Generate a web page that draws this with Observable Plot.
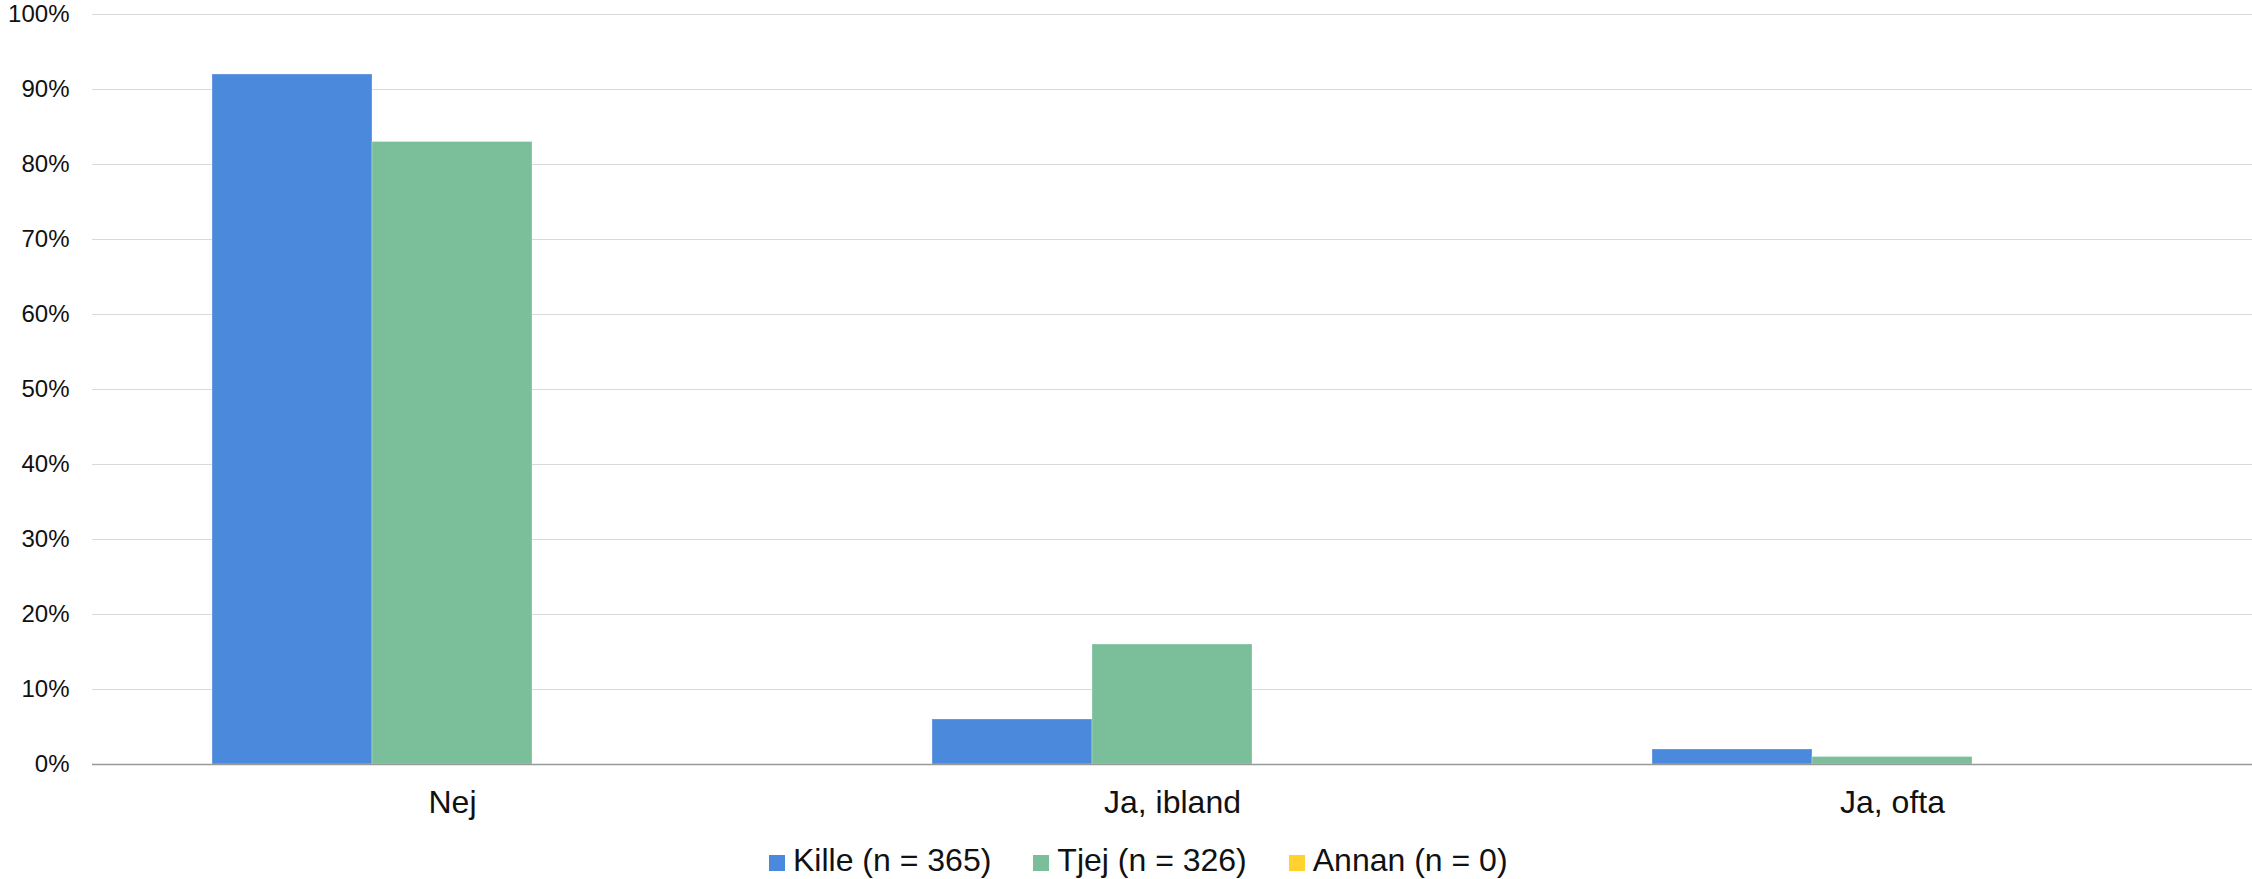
<!DOCTYPE html>
<html>
<head>
<meta charset="utf-8">
<script src="https://cdn.jsdelivr.net/npm/d3@7"></script>
<script src="https://cdn.jsdelivr.net/npm/@observablehq/plot@0.6"></script>
<style>
  html, body { margin: 0; padding: 0; background: #fff; }
  #wrap { position: relative; width: 2252px; height: 879px; font-family: "Liberation Sans", Arial, sans-serif; }
  #legend { position: absolute; top: 844px; left: 769px; display: flex; font-size: 32px; line-height: 32px; color: #111; white-space: nowrap; }
  .item { display: inline-block; margin-right: 42px; }
  .sw { display: inline-block; width: 16px; height: 16px; margin-right: 8px; vertical-align: baseline; }
</style>
</head>
<body>
<div id="wrap"><div id="chart"></div><div id="legend"></div></div>
<script>
const categories = ["Nej", "Ja, ibland", "Ja, ofta"];
const series = ["Kille (n = 365)", "Tjej (n = 326)", "Annan (n = 0)"];
const kille = [0.92, 0.06, 0.02];
const tjej = [0.83, 0.16, 0.01];
const annan = [0, 0, 0];
const colors = ["#4a89dc", "#7bbf9a", "#ffd22e"];
const yTicks = [0, 0.1, 0.2, 0.3, 0.4, 0.5, 0.6, 0.7, 0.8, 0.9, 1.0];

const valuesBySeries = [kille, tjej, annan];
const rows = [];
categories.forEach((c, i) => {
  series.forEach((s, j) => rows.push({cat: c, series: s, value: valuesBySeries[j][i]}));
});

const chart = Plot.plot({
  width: 2252,
  height: 830,
  marginLeft: 92,
  marginRight: 0,
  marginTop: 14,
  marginBottom: 66,
  style: {fontFamily: "Liberation Sans, Arial, sans-serif", color: "#111", background: "#fff"},
  fx: {domain: categories, padding: 0, label: null},
  x: {domain: series, paddingInner: 0, paddingOuter: 0.75, axis: null},
  y: {domain: [0, 1], axis: null},
  color: {domain: series, range: colors},
  marks: [
    Plot.gridY(yTicks, {stroke: "#d9d9d9", strokeOpacity: 1, strokeWidth: 1.2}),
    Plot.axisY(yTicks, {tickSize: 0, tickPadding: 23, tickFormat: d3.format(".0%"), fontSize: 24, label: null}),
    Plot.barY(rows, {fx: "cat", x: "series", y: "value", fill: "series", stroke: "#fff", strokeOpacity: 0.3, strokeWidth: 1}),
    Plot.ruleY([0], {stroke: "#999", strokeWidth: 1.5}),
    Plot.axisFx({anchor: "bottom", tickSize: 0, tickPadding: 26, fontSize: 32, label: null})
  ]
});
document.getElementById("chart").appendChild(chart);

const legend = document.getElementById("legend");
series.forEach((s, j) => {
  const item = document.createElement("span");
  item.className = "item";
  const sw = document.createElement("span");
  sw.className = "sw";
  sw.style.background = colors[j];
  item.appendChild(sw);
  item.appendChild(document.createTextNode(s));
  legend.appendChild(item);
});
</script>
</body>
</html>
